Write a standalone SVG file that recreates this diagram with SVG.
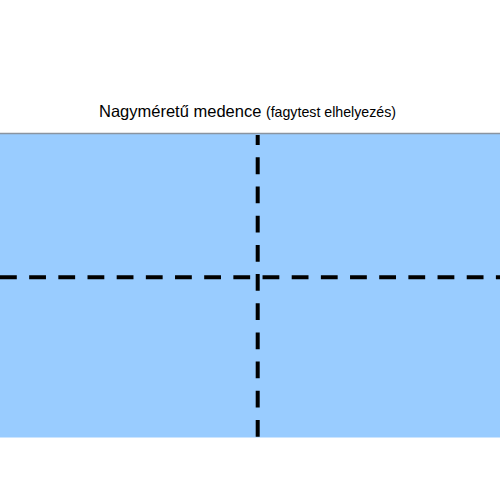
<svg xmlns="http://www.w3.org/2000/svg" width="500" height="500" viewBox="0 0 500 500">
<style>
.title{font-family:"Liberation Sans",Arial,sans-serif;fill:#000}
.cut{stroke:#000;stroke-width:4;stroke-dasharray:16.8 12.37;fill:none}
</style>
<rect x="0" y="0" width="500" height="500" fill="#fff"/>
<g id="pool">
<rect x="0" y="133.5" width="500" height="304" fill="#99CCFF"/>
<line x1="0" y1="133.5" x2="500" y2="133.5" stroke="#8a94a0" stroke-width="1.5"/>
</g>
<g id="title">
<text class="title" x="99" y="116.5" font-size="16.5">Nagyméretű medence <tspan font-size="14.2">(fagytest elhelyezés)</tspan></text>
</g>
<g id="connectors">
<line class="cut" x1="0" y1="277.3" x2="500" y2="277.3"/>
<line class="cut" x1="257.7" y1="135" x2="257.7" y2="438" stroke-dashoffset="6.8"/>
</g>
</svg>
